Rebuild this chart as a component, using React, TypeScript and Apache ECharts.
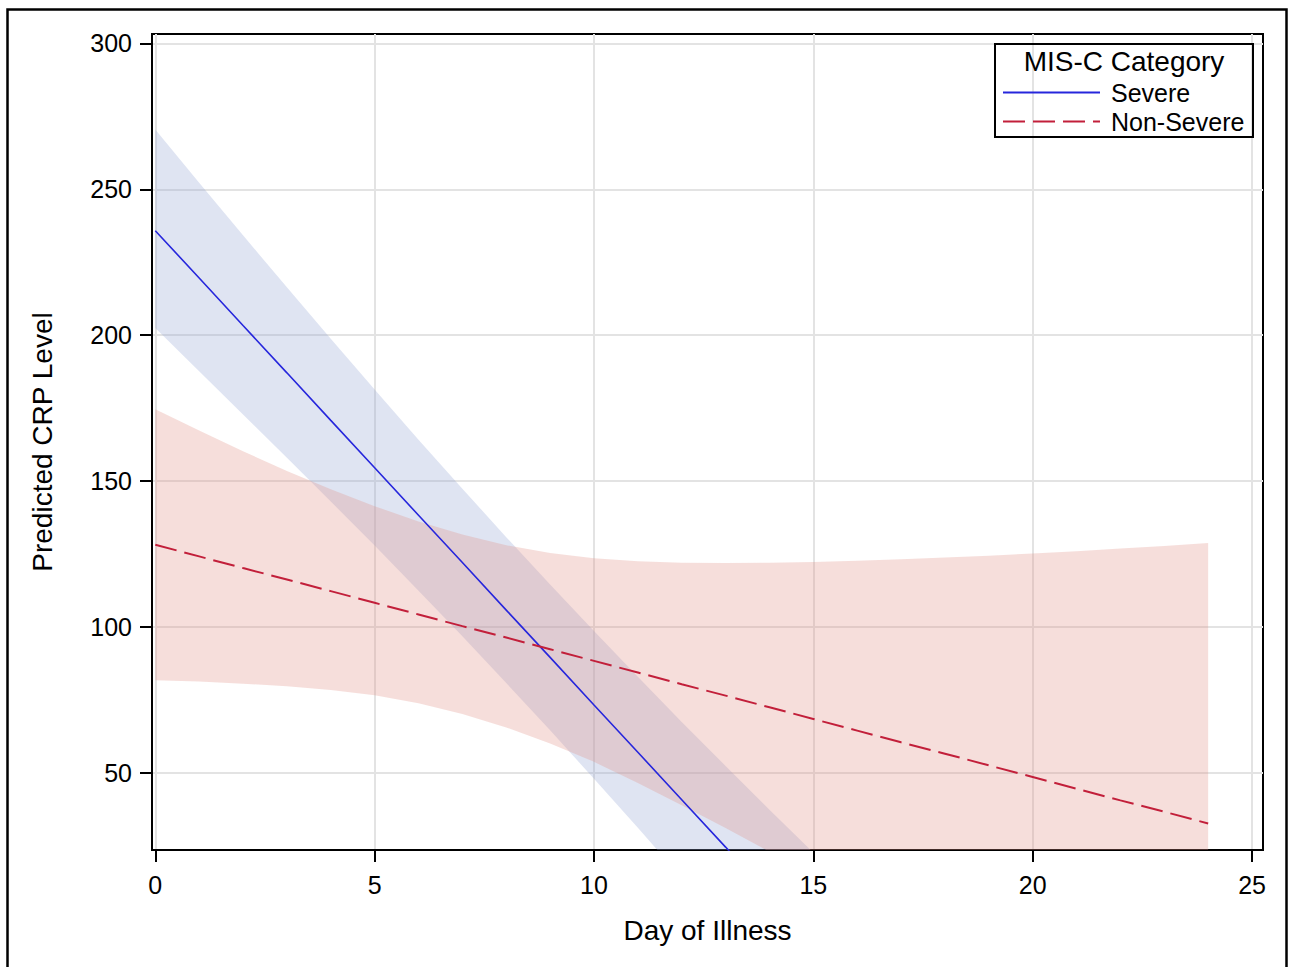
import React, { useEffect, useRef } from 'react';
import * as echarts from 'echarts';

const FONT = '"Liberation Sans", Arial, Helvetica, sans-serif';

const xTicks = [0, 5, 10, 15, 20, 25];
const yTicks = [50, 100, 150, 200, 250, 300];

const days = [0, 1, 2, 3, 4, 5, 6, 7, 8, 9, 10, 11, 12, 13, 14, 15, 16, 17, 18, 19, 20, 21, 22, 23, 24];

const severeFit = [235.8, 219.6, 203.3, 187.1, 170.8, 154.6, 138.3, 122.1, 105.8, 89.6, 73.3, 57.1, 40.8, 24.6, 8.3];
const severeUpper = [270.5, 252.2, 234.2, 216.4, 198.8, 181.4, 164.2, 147.4, 130.8, 114.6, 98.6, 83.0, 67.5, 52.4, 37.4, 22.7, 7.5];
const severeLower = [202.5, 187.6, 172.8, 158.0, 143.0, 127.9, 112.4, 96.8, 80.8, 64.6, 48.0, 31.2, 14.1, -3.2, -20.8, -38.6, -56.5];

const nonFit = [128.2, 124.2, 120.2, 116.3, 112.3, 108.3, 104.3, 100.3, 96.4, 92.4, 88.4, 84.4, 80.4, 76.5, 72.5, 68.5, 64.5, 60.5, 56.6, 52.6, 48.6, 44.6, 40.6, 36.7, 32.7];
const nonUpper = [174.6, 167.3, 160.2, 153.5, 147.2, 141.4, 136.2, 131.7, 128.0, 125.4, 123.6, 122.5, 122.0, 121.9, 122.0, 122.3, 122.7, 123.2, 123.8, 124.4, 125.2, 126.0, 126.9, 127.8, 128.8];
const nonLower = [81.8, 81.3, 80.6, 79.7, 78.4, 76.6, 73.9, 70.2, 65.6, 60.1, 53.8, 46.6, 38.9, 31.1, 23.0, 14.7, 6.3, -2.2, -10.6, -19.2, -28.0, -36.8, -45.7, -54.4, -63.4];

const legendTitle = 'MIS-C Category';
const groups = ['Severe', 'Non-Severe'];

const SEV_LINE = '#2626dc';
const NON_LINE = '#c21f3a';
const SEV_BAND = 'rgba(148,165,212,0.3)';
const NON_BAND = 'rgba(225,145,135,0.3)';

const pair = (ys: number[]) => ys.map((y, i) => [days[i], y]);

function bandSeries(name: string, lower: number[], upper: number[], color: string, z: number) {
  const rows = lower.map((lo, i) => [days[i], lo, upper[i]]);
  return {
    name,
    type: 'custom',
    clip: true,
    silent: true,
    z,
    data: rows,
    encode: { x: 0, y: [1, 2] },
    renderItem: (params: any, api: any) => {
      if (params.dataIndex !== 0) return null;
      const top = rows.map((r) => api.coord([r[0], r[2]]));
      const bot = rows.map((r) => api.coord([r[0], r[1]])).reverse();
      return {
        type: 'polygon',
        shape: { points: top.concat(bot) },
        style: { fill: color, stroke: 'none' },
      };
    },
  };
}

const option: any = {
  animation: false,
  backgroundColor: '#ffffff',
  textStyle: { fontFamily: FONT },
  grid: {
    left: 152,
    right: 27,
    top: 34,
    bottom: 117,
    show: true,
    borderColor: '#000',
    borderWidth: 2,
    backgroundColor: 'transparent',
  },
  xAxis: {
    type: 'value',
    min: -0.075,
    max: 25.25,
    name: 'Day of Illness',
    nameLocation: 'middle',
    nameGap: 66,
    nameTextStyle: { fontSize: 28, color: '#000', fontFamily: FONT },
    axisLine: { show: true, onZero: false, lineStyle: { color: '#000', width: 2 } },
    axisTick: { show: true, length: 12, lineStyle: { color: '#000', width: 2 }, customValues: xTicks },
    axisLabel: { fontSize: 25, color: '#000', margin: 22, fontFamily: FONT, customValues: xTicks },
    splitLine: { show: true, lineStyle: { color: '#e3e3e3', width: 2 } },
  },
  yAxis: {
    type: 'value',
    min: 23.6,
    max: 303.2,
    name: 'Predicted CRP Level',
    nameLocation: 'middle',
    nameGap: 96,
    nameTextStyle: { fontSize: 28, color: '#000', fontFamily: FONT },
    axisLine: { show: true, onZero: false, lineStyle: { color: '#000', width: 2 } },
    axisTick: { show: true, length: 12, lineStyle: { color: '#000', width: 2 }, customValues: yTicks },
    axisLabel: { fontSize: 25, color: '#000', margin: 20, fontFamily: FONT, customValues: yTicks },
    splitLine: { show: true, lineStyle: { color: '#e3e3e3', width: 2 } },
  },
  legend: {
    data: groups,
    orient: 'vertical',
    left: 1002,
    top: 80,
    itemWidth: 97,
    itemHeight: 25,
    itemGap: 4,
    padding: 0,
    selectedMode: false,
    itemStyle: { opacity: 0 },
    textStyle: { fontSize: 25, color: '#000', fontFamily: FONT, padding: [0, 0, 0, 6] },
  },
  graphic: [
    {
      type: 'rect',
      shape: { x: 7.5, y: 9.5, width: 1279, height: 990 },
      style: { fill: 'none', stroke: '#000', lineWidth: 2.5 },
      silent: true,
      z: 100,
    },
    {
      type: 'rect',
      shape: { x: 995, y: 44, width: 258, height: 93 },
      style: { fill: 'none', stroke: '#000', lineWidth: 2 },
      silent: true,
      z: 100,
    },
    {
      type: 'text',
      x: 1124,
      y: 61,
      style: {
        text: legendTitle,
        fontSize: 28,
        fontFamily: FONT,
        fill: '#000',
        align: 'center',
        verticalAlign: 'middle',
      },
      silent: true,
      z: 100,
    },
  ],
  series: [
    bandSeries('Severe CL', severeLower, severeUpper, SEV_BAND, 1),
    bandSeries('Non-Severe CL', nonLower, nonUpper, NON_BAND, 2),
    {
      name: groups[0],
      type: 'line',
      data: pair(severeFit),
      symbol: 'none',
      lineStyle: { color: SEV_LINE, width: 1.6 },
      itemStyle: { color: SEV_LINE },
      z: 5,
    },
    {
      name: groups[1],
      type: 'line',
      data: pair(nonFit),
      symbol: 'none',
      lineStyle: { color: NON_LINE, width: 2, type: [22, 8] },
      itemStyle: { color: NON_LINE },
      z: 5,
    },
  ],
};

export default function App() {
  const ref = useRef<HTMLDivElement>(null);
  useEffect(() => {
    const chart = echarts.init(ref.current as HTMLDivElement, null, { renderer: 'svg' });
    chart.setOption(option);
    return () => chart.dispose();
  }, []);
  return (
    <div
      ref={ref}
      style={{ position: 'fixed', left: 0, top: 0, width: 1290, height: 967, background: '#fff' }}
    />
  );
}
